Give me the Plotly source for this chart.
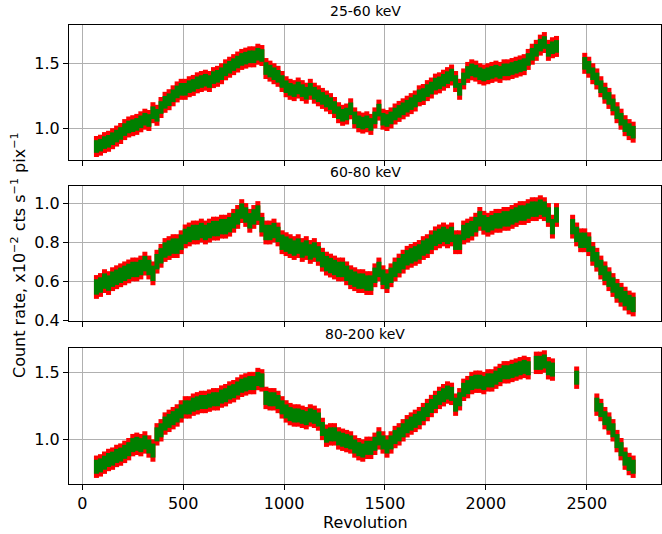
import plotly.graph_objects as go

# Revolution grid (sampled every 20 revolutions)
revolution = list(range(70, 2731, 20))

panel_titles = ["25-60 keV", "60-80 keV", "80-200 keV"]

rate_25_60 = [
    0.86, 0.87, 0.89, 0.90, 0.92, 0.94, 0.96, 0.99, 1.01, 1.02,
    1.03, 1.05, 1.07, 1.06, 1.12, 1.10, 1.16, 1.20, 1.22, 1.25,
    1.28, 1.30, 1.30, 1.32, 1.33, 1.35, 1.36, 1.37, 1.36, 1.39,
    1.40, 1.42, 1.45, 1.47, 1.49, 1.51, 1.53, 1.54, 1.55, 1.55,
    1.57, 1.56, 1.46, 1.44, 1.42, 1.40, 1.36, 1.32, 1.30, 1.29,
    1.31, 1.29, 1.27, 1.30, 1.27, 1.25, 1.23, 1.21, 1.19, 1.16,
    1.12, 1.10, 1.11, 1.15, 1.08, 1.05, 1.04, 1.05, 1.03, 1.08,
    1.14, 1.07, 1.06, 1.08, 1.11, 1.13, 1.15, 1.17, 1.19, 1.21,
    1.25, 1.26, 1.29, 1.31, 1.34, 1.35, 1.37, 1.39, 1.41, 1.36,
    1.30, 1.38, 1.43, 1.45, 1.44, 1.42, 1.41, 1.42, 1.43, 1.44,
    1.43, 1.45, 1.45, 1.46, 1.47, 1.48, 1.49, 1.53, 1.57, 1.60,
    1.64, 1.66, 1.60, 1.62, 1.63, None, None, None, None, None,
    None, 1.50, 1.47, 1.42, 1.38, 1.32, 1.27, 1.23, 1.18, 1.12,
    1.07, 1.02, 0.99, 0.97,
]

rate_60_80 = [
    0.57, 0.58, 0.60, 0.59, 0.61, 0.62, 0.63, 0.64, 0.65, 0.66,
    0.66, 0.67, 0.69, 0.67, 0.64, 0.70, 0.73, 0.76, 0.77, 0.78,
    0.78, 0.80, 0.83, 0.84, 0.85, 0.85, 0.86, 0.85, 0.86, 0.87,
    0.87, 0.88, 0.88, 0.89, 0.91, 0.93, 0.96, 0.94, 0.91, 0.93,
    0.95, 0.89, 0.85, 0.85, 0.86, 0.84, 0.80, 0.79, 0.78, 0.77,
    0.78, 0.76, 0.77, 0.75, 0.76, 0.74, 0.71, 0.69, 0.68, 0.67,
    0.66, 0.66, 0.64, 0.62, 0.61, 0.60, 0.60, 0.59, 0.59, 0.63,
    0.66, 0.62, 0.60, 0.63, 0.66, 0.68, 0.70, 0.72, 0.73, 0.74,
    0.75, 0.77, 0.78, 0.80, 0.82, 0.83, 0.84, 0.83, 0.84, 0.80,
    0.80, 0.85, 0.86, 0.87, 0.89, 0.92, 0.90, 0.89, 0.90, 0.91,
    0.91, 0.92, 0.92, 0.93, 0.94, 0.95, 0.95, 0.96, 0.97, 0.97,
    0.98, 0.97, 0.94, 0.88, 0.94, None, None, None, 0.88, 0.84,
    0.81, 0.81, 0.79, 0.74, 0.71, 0.67, 0.64, 0.61, 0.58, 0.55,
    0.53, 0.51, 0.49, 0.48,
]

rate_80_200 = [
    0.80, 0.81, 0.83, 0.85, 0.86, 0.88, 0.89, 0.91, 0.93, 0.96,
    0.97, 0.96, 0.98, 0.95, 0.92, 1.04, 1.07, 1.12, 1.14, 1.16,
    1.18, 1.21, 1.24, 1.24, 1.26, 1.27, 1.28, 1.28, 1.29, 1.30,
    1.30, 1.32, 1.33, 1.35, 1.36, 1.38, 1.40, 1.41, 1.42, 1.42,
    1.45, 1.44, 1.31, 1.30, 1.30, 1.28, 1.24, 1.21, 1.19, 1.18,
    1.18, 1.17, 1.16, 1.18, 1.17, 1.15, 1.08, 1.03, 1.04, 1.04,
    1.01, 1.00, 0.99, 0.98, 0.95, 0.93, 0.92, 0.94, 0.94, 0.97,
    1.01, 0.98, 0.95, 0.98, 1.02, 1.04, 1.07, 1.10, 1.12, 1.14,
    1.16, 1.19, 1.22, 1.25, 1.28, 1.31, 1.33, 1.35, 1.34, 1.26,
    1.30, 1.37, 1.39, 1.42, 1.43, 1.43, 1.42, 1.44, 1.44, 1.46,
    1.48, 1.50, 1.50, 1.51, 1.52, 1.53, 1.54, 1.53, None, 1.57,
    1.57, 1.58, 1.53, 1.52, None, None, None, None, None, 1.46,
    None, None, None, None, 1.26, 1.22, 1.16, 1.12, 1.07, 0.99,
    0.93, 0.86, 0.82, 0.80,
]

series = [rate_25_60, rate_60_80, rate_80_200]
y_ranges = [[0.756, 1.795], [0.395, 1.089], [0.672, 1.68]]
y_ticks = [[1.0, 1.5], [0.4, 0.6, 0.8, 1.0], [1.0, 1.5]]
x_ticks = [0, 500, 1000, 1500, 2000, 2500]
# marker heights (pixels) for the error band and the points in each panel
red_size = [15, 17, 16]
green_size = [9, 11, 10]

# figure geometry (pixels)
W, H = 662, 534
ml, mr, mt, mb = 69, 1, 25, 50
ph = H - mt - mb
panels_px = [(25, 160), (186, 321), (348, 484)]
def fy(p):
    return (H - mb - p) / ph

fig = go.Figure()
for i, ys in enumerate(series):
    n = "" if i == 0 else str(i + 1)
    fig.add_trace(go.Scatter(x=revolution, y=ys, mode="markers",
                             marker=dict(symbol="line-ns", size=red_size[i],
                                         line=dict(color="red", width=5)),
                             xaxis="x" + n, yaxis="y" + n, showlegend=False,
                             hoverinfo="skip"))
    fig.add_trace(go.Scatter(x=revolution, y=ys, mode="markers",
                             marker=dict(symbol="line-ns", size=green_size[i],
                                         line=dict(color="green", width=5)),
                             xaxis="x" + n, yaxis="y" + n, showlegend=False))

font = dict(family="DejaVu Sans", size=16, color="black")
layout = dict(width=W, height=H, margin=dict(l=ml, r=mr, t=mt, b=mb),
              plot_bgcolor="white", paper_bgcolor="white", font=font)
annotations = []
for i in range(3):
    n = "" if i == 0 else str(i + 1)
    top, bot = panels_px[i]
    layout["xaxis" + n] = dict(
        domain=[0, 1], range=[-66, 2868], anchor="y" + n,
        tickvals=x_ticks, showticklabels=(i == 2),
        ticks="outside", ticklen=5, tickcolor="black",
        showline=True, mirror=True, linecolor="black", linewidth=1,
        showgrid=True, gridcolor="#b0b0b0", gridwidth=0.8, zeroline=False,
        tickfont=font)
    if i > 0:
        layout["xaxis" + n]["matches"] = "x"
    layout["yaxis" + n] = dict(
        domain=[fy(bot), fy(top)], range=y_ranges[i], anchor="x" + n,
        tickvals=y_ticks[i], ticktext=["%.1f" % v for v in y_ticks[i]],
        ticks="outside", ticklen=5, tickcolor="black",
        showline=True, mirror=True, linecolor="black", linewidth=1,
        showgrid=True, gridcolor="#b0b0b0", gridwidth=0.8, zeroline=False,
        tickfont=font)
    annotations.append(dict(text=panel_titles[i], xref="paper", yref="paper",
                            x=0.5, y=fy(top) + 4 / ph, xanchor="center",
                            yanchor="bottom", showarrow=False,
                            font=dict(family="DejaVu Sans", size=14, color="black")))

annotations.append(dict(text="Revolution", xref="paper", yref="paper",
                        x=0.5, y=fy(522), xanchor="center", yanchor="middle",
                        showarrow=False, font=font))
annotations.append(dict(text="Count rate, x10<sup>−2</sup> cts s<sup>−1</sup> pix<sup>−1</sup>",
                        xref="paper", yref="paper", x=(18 - ml) / (W - ml - mr),
                        y=fy(255), xanchor="center", yanchor="middle",
                        textangle=-90, showarrow=False, font=font))
layout["annotations"] = annotations
fig.update_layout(**layout)
fig.write_html("out.html")
